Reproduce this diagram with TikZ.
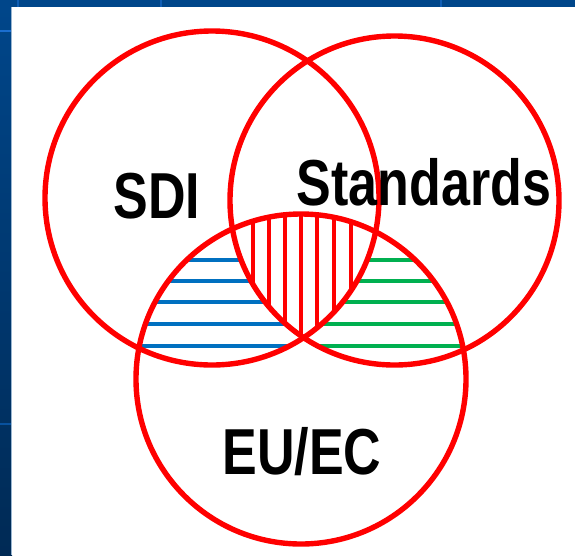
\documentclass[tikz,border=0pt]{standalone}
\usepackage{fontspec}
\newfontfamily\labfont{Liberation Sans}[FakeStretch=0.8]
\definecolor{vred}{HTML}{FF0000}
\definecolor{hblue}{HTML}{0070C0}
\definecolor{hgreen}{HTML}{00B050}
\definecolor{bgblue}{HTML}{00468A}
\definecolor{bgdark}{HTML}{002A55}
\definecolor{gridblue}{HTML}{1A6ED0}
\tikzset{
  ring/.style={draw=vred, line width=5.4pt},
  bhatch/.style={draw=hblue, line width=4.4pt},
  ghatch/.style={draw=hgreen, line width=4.4pt},
  rhatch/.style={draw=vred, line width=4.2pt},
  lab/.style={inner sep=0pt, anchor=base, text=black, font=\labfont\bfseries\fontsize{65}{65}\selectfont}
}
\begin{document}
\begin{tikzpicture}[x=1pt,y=-1pt]
\useasboundingbox (0,0) rectangle (575,555);
% background
\fill[bgblue] (0,0) rectangle (575,555);
\shade[top color=bgblue, bottom color=bgdark] (0,7) rectangle (12,555);
\draw[gridblue, line width=1.5pt] (0,31) -- (12,31);
\draw[bgblue!70!gridblue, line width=1.5pt] (0,424) -- (12,424);
\draw[gridblue!60!bgblue, line width=2pt] (18,0) -- (18,7);
\draw[gridblue!60!bgblue, line width=2pt] (161,0) -- (161,7);
\draw[gridblue!60!bgblue, line width=2pt] (441,0) -- (441,7);
\fill[white] (12,7) rectangle (575,555);
\draw[white!60!bgblue, line width=0.8pt] (11.6,7) -- (11.6,555);
% circle centres
\coordinate (cs) at (212,198);
\coordinate (ct) at (394.5,200.5);
\coordinate (ce) at (301,379);
% blue hatch: SDI and EU
\begin{scope}
  \clip (cs) circle (167);
  \clip (ce) circle (165);
  \foreach \yy in {260,281,302,324,346} {
    \draw[bhatch] (100,\yy) -- (330,\yy);
  }
\end{scope}
% green hatch: Standards and EU
\begin{scope}
  \clip (ct) circle (164.5);
  \clip (ce) circle (165);
  \foreach \yy in {260,281,302,324,346} {
    \draw[ghatch] (280,\yy) -- (500,\yy);
  }
\end{scope}
% red hatch: all three
\begin{scope}
  \clip (cs) circle (167);
  \clip (ct) circle (164.5);
  \clip (ce) circle (165);
  \fill[white] (200,200) rectangle (400,360);
  \foreach \xx in {253,269,285,301,317,334,351} {
    \draw[rhatch] (\xx,200) -- (\xx,360);
  }
\end{scope}
% circles
\node[ring, circle, minimum size=334pt, inner sep=0pt] (sdi) at (cs) {};
\node[ring, circle, minimum size=329pt, inner sep=0pt] (std) at (ct) {};
\node[ring, circle, minimum size=330pt, inner sep=0pt] (eu) at (ce) {};
% labels
\node[lab] (tsdi) at (157,218) {SDI};
\node[lab] (tstd) at (424,205) {Standards};
\node[lab] (teu) at (302,474) {EU/EC};
\end{tikzpicture}
\end{document}
